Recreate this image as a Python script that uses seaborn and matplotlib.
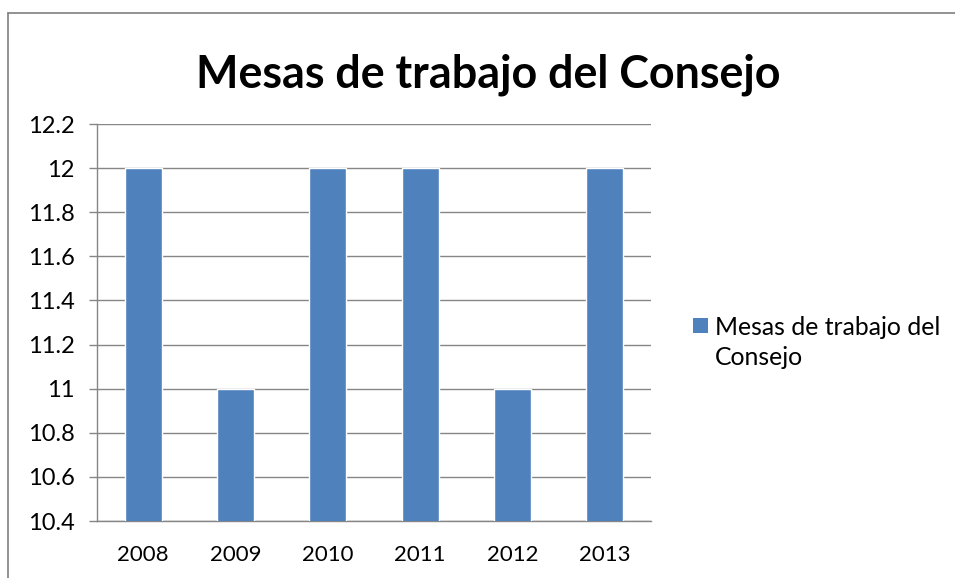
import matplotlib
matplotlib.use("Agg")
import matplotlib.pyplot as plt
import seaborn as sns
import numpy as np
import pandas as pd
from matplotlib.lines import Line2D
from matplotlib.patches import Rectangle

# Data
years = ["2008", "2009", "2010", "2011", "2012", "2013"]
mesas = [12, 11, 12, 12, 11, 12]
series_name = "Mesas de trabajo del Consejo"
legend_label = "Mesas de trabajo del\nConsejo"
y_ticks = [10.4, 10.6, 10.8, 11, 11.2, 11.4, 11.6, 11.8, 12, 12.2]

df = pd.DataFrame({"year": years, "value": mesas})

sns.set_style("white")
plt.rcParams["font.family"] = ["Lato", "DejaVu Sans"]
plt.rcParams["text.color"] = "black"
plt.rcParams["xtick.labelcolor"] = "black"
plt.rcParams["ytick.labelcolor"] = "black"

bar_color = "#4F81BD"
grid_color = "#868686"
W, H = 955, 578

fig = plt.figure(figsize=(W / 100, H / 100), dpi=100)
ax = fig.add_axes([97 / W, 1 - 521 / H, 554 / W, 397 / H])

sns.barplot(data=df, x="year", y="value", color=bar_color, width=0.4,
            saturation=1, ax=ax, zorder=3)

ax.set_ylim(10.4, 12.2)
ax.set_xlim(-0.5, len(years) - 0.5)
ax.set_yticks(y_ticks)
ax.set_yticklabels([f"{v:g}" for v in y_ticks])
ax.grid(axis="y", color=grid_color, linewidth=1, zorder=0)
ax.set_axisbelow(True)

# x tick marks at category boundaries, labels centred
ax.set_xticks(np.arange(-0.5, len(years)), minor=True)
ax.tick_params(axis="x", which="major", length=0, pad=17, labelsize=16)
ax.tick_params(axis="x", which="minor", length=6, color=grid_color, width=1)
ax.tick_params(axis="y", which="major", length=6, color=grid_color, width=1,
               pad=10, labelsize=17, left=True)

ax.set_xlabel("")
ax.set_ylabel("")
for side in ["top", "right"]:
    ax.spines[side].set_visible(False)
for side in ["left", "bottom"]:
    ax.spines[side].set_color(grid_color)
    ax.spines[side].set_linewidth(1)

fig.text(488 / W, 1 - 87.5 / H, series_name, ha="center", va="baseline",
         fontsize=32.3, fontweight="bold")

# legend (handle aligned with the first line, as in the original)
fig.patches.append(Rectangle((693 / W, 1 - 333 / H), 15 / W, 15 / H,
                             transform=fig.transFigure, facecolor=bar_color,
                             edgecolor="none"))
fig.text(715 / W, 1 - 335 / H, legend_label.split("\n")[0], ha="left",
         va="baseline", fontsize=17.8)
fig.text(715 / W, 1 - 365 / H, legend_label.split("\n")[1], ha="left",
         va="baseline", fontsize=17.8)

# chart area border (left and top visible)
fig.add_artist(Line2D([7.5 / W, 7.5 / W], [0, 1 - 12.5 / H], color="#7f7f7f",
                      linewidth=1.2, transform=fig.transFigure))
fig.add_artist(Line2D([7.5 / W, 1], [1 - 12.5 / H, 1 - 12.5 / H],
                      color="#7f7f7f", linewidth=1.2, transform=fig.transFigure))

fig.savefig("out.png", dpi=100)
